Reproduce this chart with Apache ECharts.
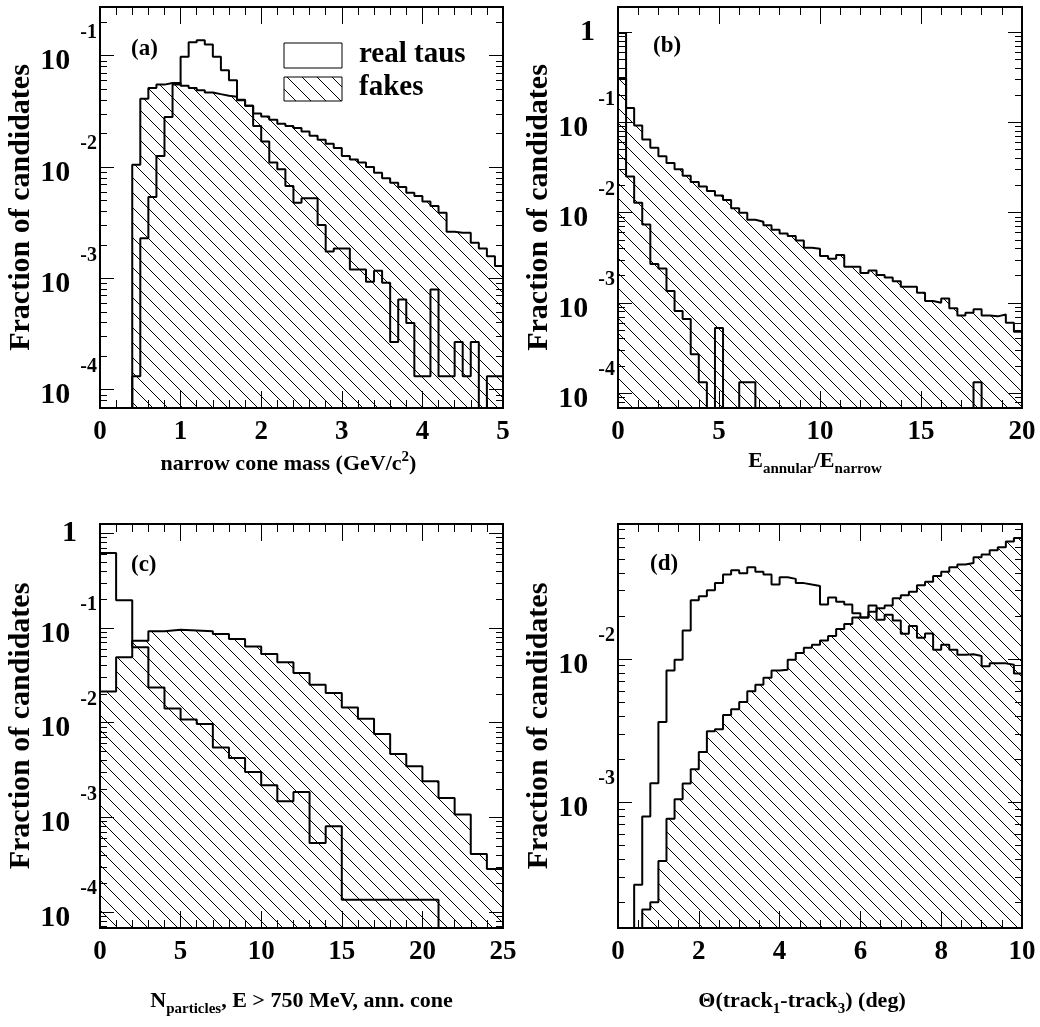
<!DOCTYPE html>
<html><head><meta charset="utf-8">
<script src="https://cdn.jsdelivr.net/npm/echarts@6/dist/echarts.min.js"></script>
<style>html,body{margin:0;padding:0;background:#fff}#c{width:1040px;height:1027px}</style>
</head><body><div id="c"></div>
<script>
// ---------------- data (fraction of candidates per bin) ----------------
// (a) narrow cone mass, 50 bins of 0.1 GeV/c^2 starting at 0
const massBinStart = 0, massBinWidth = 0.1;
const massReal = [0,0,0,0,0.000132,0.00229,0.00537,0.0126,0.0282,0.0550,
  0.0977,0.132,0.138,0.126,0.0977,0.0741,0.0603,0.0398,0.0355,0.0234,
  0.0170,0.0110,0.00955,0.00676,0.00479,0.00525,0.00525,0.00302,0.00174,0.00186,
  0.00186,0.00120,0.00120,0.000933,0.00117,0.000912,0.000269,0.000646,0.000398,0.000132,
  0.000132,0.000794,0.000132,0.000132,0.000269,0.000132,0.000269,0,0.000132,0.000132];
const massFakes = [0,0,0,0,0.0105,0.0411,0.0513,0.0550,0.0569,0.0569,
  0.0537,0.0513,0.0490,0.0468,0.0452,0.0437,0.0427,0.0403,0.0355,0.0302,
  0.0285,0.0266,0.0245,0.0234,0.0224,0.0209,0.0191,0.0176,0.0162,0.0148,
  0.0126,0.0117,0.0110,0.0100,0.00891,0.00794,0.00724,0.00661,0.00589,0.00550,
  0.00490,0.00447,0.00389,0.00263,0.00257,0.00257,0.00209,0.00186,0.00158,0.00129];
// (b) E_annular/E_narrow, 50 bins of 0.4 starting at 0
const ratioBinStart = 0, ratioBinWidth = 0.4;
const ratioReal = [0.984,0.0251,0.0129,0.00741,0.00269,0.00240,0.00135,0.000813,0.000661,0.000269,
  0.000132,0,0.000525,0,0,0.000132,0.000132,0,0,0,
  0,0,0,0,0,0,0,0,0,0,
  0,0,0,0,0,0,0,0,0,0,
  0,0,0,0,0.000132,0,0,0,0,0];
const ratioFakes = [0.312,0.145,0.0923,0.0646,0.0525,0.0422,0.0355,0.0302,0.0257,0.0219,
  0.0195,0.0174,0.0155,0.0138,0.0112,0.0100,0.00832,0.00794,0.00724,0.00646,
  0.00589,0.00550,0.00490,0.00407,0.00398,0.00331,0.00309,0.00339,0.00251,0.00251,
  0.00214,0.00229,0.00204,0.00191,0.00174,0.00151,0.00151,0.00129,0.00105,0.00100,
  0.00112,0.000871,0.000724,0.000776,0.000851,0.000724,0.000708,0.000741,0.000603,0.000479];
// (c) N particles, 25 bins of 1 starting at 0
const nBinStart = 0, nBinWidth = 1;
const nReal = [0.619,0.196,0.0625,0.0236,0.0141,0.0108,0.00968,0.00548,0.00424,0.00301,
  0.00218,0.00148,0.00185,0.000536,0.000804,0.000135,0.000135,0.000135,0.000135,0.000135,
  0.000135,0,0,0,0];
const nFakes = [0.0214,0.0490,0.0735,0.0923,0.0960,0.0944,0.0923,0.0865,0.0766,0.0640,
  0.0531,0.0434,0.0335,0.0252,0.0206,0.0145,0.0110,0.00759,0.00467,0.00346,
  0.00240,0.00160,0.00107,0.000410,0.000284];
// (d) Theta(track1-track3), 50 bins of 0.2 deg starting at 0
const thetaBinStart = 0, thetaBinWidth = 0.2;
const thetaReal = [0,0,0.000265,0.000796,0.00136,0.00363,0.00832,0.00989,0.0158,0.0257,
  0.0275,0.0302,0.0339,0.0389,0.0417,0.0398,0.0437,0.0407,0.0389,0.0331,
  0.0372,0.0363,0.0339,0.0331,0.0324,0.0240,0.0269,0.0251,0.0240,0.0209,
  0.0195,0.0237,0.0188,0.0204,0.0186,0.0150,0.0170,0.0141,0.0151,0.0116,
  0.0126,0.0116,0.0107,0.0108,0.0105,0.00891,0.00933,0.00933,0.00912,0.00794];
const thetaFakes = [0,0,0,0.000178,0.000200,0.000389,0.000767,0.00105,0.00135,0.00170,
  0.00224,0.00313,0.00324,0.00407,0.00447,0.00501,0.00596,0.00661,0.00741,0.00832,
  0.00841,0.00989,0.0110,0.0120,0.0126,0.0135,0.0145,0.0162,0.0176,0.0195,
  0.0195,0.0214,0.0226,0.0237,0.0266,0.0279,0.0295,0.0327,0.0347,0.0380,
  0.0407,0.0437,0.0457,0.0468,0.0513,0.0537,0.0575,0.0603,0.0661,0.0700];

const yTitle = 'Fraction of candidates';
const legendLabels = ['real taus', 'fakes'];
const panelLabels = ['(a)', '(b)', '(c)', '(d)'];

// ---------------- helpers ----------------
const FONT = "'Liberation Serif','Times New Roman',serif";
const FLOOR = -9; // empty bins are drawn below the axis floor (clipped)
function toLog(v) { return v > 0 ? Math.log10(v) : FLOOR; }
function histPoints(start, width, vals) {
  const pts = vals.map((v, i) => [start + i * width, toLog(v)]);
  pts.push([start + vals.length * width, toLog(vals[vals.length - 1])]);
  return pts;
}
function makeHatch(s) {
  const c = document.createElement('canvas');
  c.width = s; c.height = s;
  const g = c.getContext('2d');
  g.strokeStyle = '#000'; g.lineWidth = 1;
  g.beginPath();
  g.moveTo(0, 0); g.lineTo(s, s);
  g.moveTo(-2, s - 2); g.lineTo(2, s + 2);
  g.moveTo(s - 2, -2); g.lineTo(s + 2, 2);
  g.stroke();
  return c;
}
const hatch = { image: makeHatch(15), repeat: 'repeat' };

const grids = [
  { left: 100, top: 7, width: 403, height: 401 },
  { left: 618, top: 7, width: 404, height: 401 },
  { left: 100, top: 524, width: 403, height: 404 },
  { left: 618, top: 524, width: 404, height: 404 }
];
const xSpec = [
  { min: 0, max: 5, interval: 1, minor: 5, gap: 42,
    name: '{t|narrow cone mass (GeV/c}{sup|2}{t|)}', pad: [0, 26, 0, 0] },
  { min: 0, max: 20, interval: 5, minor: 5, gap: 42,
    name: '{tt|E}{sub|annular}{tt|/E}{sub|narrow}', pad: [0, 10, 0, 0] },
  { min: 0, max: 25, interval: 5, minor: 5, gap: 62,
    name: '{tt|N}{sub|particles}{tt|, E > 750 MeV, ann. cone}', pad: [0, 0, 0, 0] },
  { min: 0, max: 10, interval: 2, minor: 4, gap: 62,
    name: '{tt|\u0398(track}{sub|1}{tt|-track}{sub|3}{tt|) (deg)}', pad: [0, 36, 0, 0] }
];
const ySpec = [
  { lo: -4.164, hi: -0.5625 },
  { lo: -4.166, hi: 0.28 },
  { lo: -4.169, hi: 0.099 },
  { lo: -3.878, hi: -1.057 }
];

const nameRich = {
  t: { fontFamily: FONT, fontWeight: 'bold', fontSize: 22, color: '#000', verticalAlign: 'bottom' },
  sup: { fontFamily: FONT, fontWeight: 'bold', fontSize: 15, color: '#000', padding: [0, 0, 10, 0], verticalAlign: 'top' },
  tt: { fontFamily: FONT, fontWeight: 'bold', fontSize: 22, color: '#000', verticalAlign: 'top' },
  sub: { fontFamily: FONT, fontWeight: 'bold', fontSize: 15, color: '#000', padding: [12, 0, 0, 0], verticalAlign: 'top' }
};

const xAxes = [], yAxes = [];
xSpec.forEach((s, gi) => {
  const base = {
    gridIndex: gi, type: 'value', min: s.min, max: s.max, interval: s.interval,
    axisLine: { show: false, onZero: false }, splitLine: { show: false },
    axisTick: { show: true, inside: true, length: 17, lineStyle: { color: '#000', width: 1 } },
    minorTick: { show: true, splitNumber: s.minor, length: 8, lineStyle: { color: '#000', width: 1 } }
  };
  xAxes.push(Object.assign({}, base, {
    position: 'bottom',
    axisLabel: { show: true, margin: 11, fontFamily: FONT, fontWeight: 'bold', fontSize: 27, color: '#000' },
    name: s.name, nameLocation: 'middle', nameGap: s.gap,
    nameTextStyle: { rich: nameRich, padding: s.pad }
  }));
  xAxes.push(Object.assign({}, base, { position: 'top', axisLabel: { show: false } }));
});

const yRich = {
  b: { fontFamily: FONT, fontWeight: 'bold', fontSize: 30, color: '#000', verticalAlign: 'bottom' },
  one: { fontFamily: FONT, fontWeight: 'bold', fontSize: 30, color: '#000', padding: [12, 0, 0, 0] },
  e: { fontFamily: FONT, fontWeight: 'bold', fontSize: 20, color: '#000', padding: [0, 0, 34, 10], verticalAlign: 'bottom' },
  sp: { width: 20 }
};
ySpec.forEach((s, gi) => {
  const majors = [], minors = [];
  for (let n = Math.floor(s.lo); n <= Math.ceil(s.hi); n++) {
    if (n >= s.lo && n <= s.hi) majors.push(n);
    for (let k = 2; k <= 9; k++) {
      const v = n + Math.log10(k);
      if (v >= s.lo && v <= s.hi) minors.push(v);
    }
  }
  const base = {
    gridIndex: gi, type: 'value', min: s.lo, max: s.hi,
    axisLine: { show: false, onZero: false }, splitLine: { show: false }
  };
  const tick = (vals, len) => ({ show: true, inside: true, length: len, customValues: vals, lineStyle: { color: '#000', width: 1 } });
  yAxes.push(Object.assign({}, base, {
    position: 'left', axisTick: tick(majors, 14),
    axisLabel: {
      show: true, customValues: majors, margin: 3, padding: [0, 0, 12, 0],
      formatter: v => { const n = Math.round(v); return n === 0 ? '{one|1}{sp|}' : '{b|10}{e|' + n + '}'; },
      rich: yRich
    },
    name: yTitle, nameLocation: 'middle', nameGap: 61, nameRotate: 90,
    nameTextStyle: { fontFamily: FONT, fontWeight: 'bold', fontSize: 30, color: '#000' }
  }));
  yAxes.push(Object.assign({}, base, { position: 'left', axisTick: tick(minors, 7), axisLabel: { show: false } }));
  yAxes.push(Object.assign({}, base, { position: 'right', axisTick: tick(majors, 14), axisLabel: { show: false } }));
  yAxes.push(Object.assign({}, base, { position: 'right', axisTick: tick(minors, 7), axisLabel: { show: false } }));
});

const hists = [
  [massBinStart, massBinWidth, massReal, massFakes],
  [ratioBinStart, ratioBinWidth, ratioReal, ratioFakes],
  [nBinStart, nBinWidth, nReal, nFakes],
  [thetaBinStart, thetaBinWidth, thetaReal, thetaFakes]
];
const series = [];
hists.forEach((h, gi) => {
  series.push({
    name: legendLabels[1], type: 'line', step: 'end', symbol: 'none', clip: true,
    xAxisIndex: gi * 2, yAxisIndex: gi * 4, z: 2,
    data: histPoints(h[0], h[1], h[3]),
    lineStyle: { color: '#000', width: 2 },
    areaStyle: { color: hatch, opacity: 1, origin: 'start' }
  });
  series.push({
    name: legendLabels[0], type: 'line', step: 'end', symbol: 'none', clip: true,
    xAxisIndex: gi * 2, yAxisIndex: gi * 4, z: 3,
    data: histPoints(h[0], h[1], h[2]),
    lineStyle: { color: '#000', width: 2 }
  });
});

const labelPos = [[131, 50], [653, 47], [131, 566], [650, 565]];
const graphic = panelLabels.map((t, i) => ({
  type: 'text', left: labelPos[i][0], top: labelPos[i][1] - 12, z: 10,
  style: { text: t, font: 'bold 23px ' + FONT, fill: '#000' }
}));
graphic.push(
  { type: 'rect', shape: { x: 284, y: 43, width: 58, height: 25 }, z: 10,
    style: { fill: '#fff', stroke: '#000', lineWidth: 1 } },
  { type: 'rect', shape: { x: 284, y: 77, width: 58, height: 24 }, z: 10,
    style: { fill: hatch, stroke: '#000', lineWidth: 1 } },
  { type: 'text', left: 359, top: 40, z: 10,
    style: { text: legendLabels[0], font: 'bold 29px ' + FONT, fill: '#000' } },
  { type: 'text', left: 359, top: 73, z: 10,
    style: { text: legendLabels[1], font: 'bold 29px ' + FONT, fill: '#000' } }
);

const chart = echarts.init(document.getElementById('c'), null, { renderer: 'canvas' });
chart.setOption({
  animation: false,
  backgroundColor: '#fff',
  grid: grids.map(g => Object.assign({ show: true, borderColor: '#000', borderWidth: 2, backgroundColor: 'transparent' }, g)),
  xAxis: xAxes,
  yAxis: yAxes,
  series: series,
  graphic: graphic
});
</script></body></html>
